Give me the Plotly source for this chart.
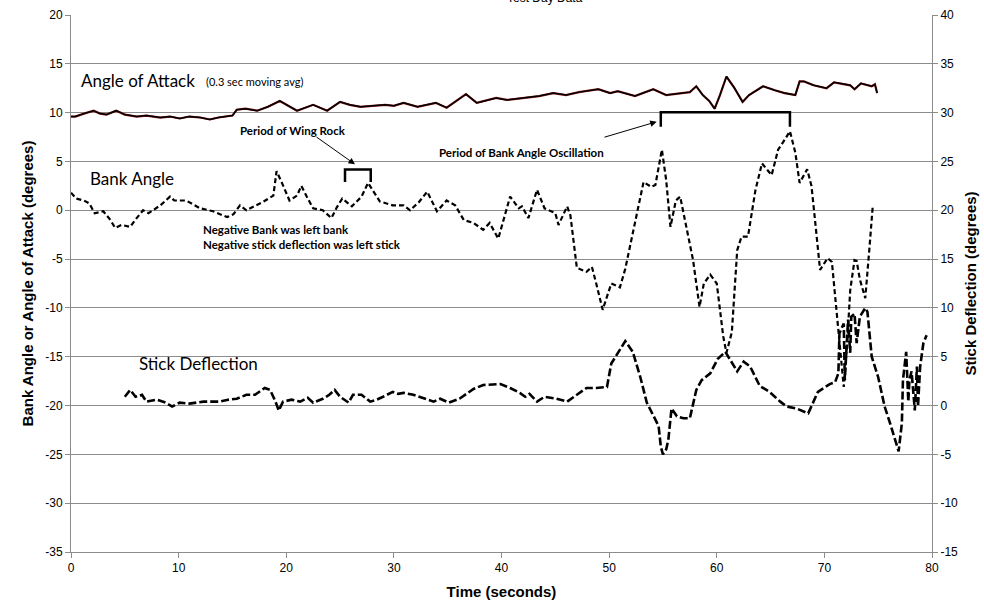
import plotly.graph_objs as go

# time (s) and angle of attack (deg, left axis)
aoa_t = [0.0, 0.4, 1.2, 2.1, 2.7, 3.3, 4.2, 5.0, 6.1, 7.0, 8.3, 9.2, 10.1, 11.0, 12.0, 12.9,
         13.7, 14.5, 15.0, 15.4, 16.2, 17.3, 18.3, 19.4, 20.2, 21.0, 22.5, 23.8, 25.0, 25.9,
         26.9, 28.0, 29.2, 30.0, 30.9, 32.2, 33.9, 34.9, 36.7, 37.7, 39.5, 40.5, 42.2, 43.5,
         44.8, 46.0, 47.2, 49.0, 50.1, 50.8, 52.4, 54.1, 55.3, 56.9, 57.5, 58.1, 58.7, 59.3,
         59.8, 60.3, 60.9, 61.6, 62.4, 63.0, 64.3, 65.4, 66.3, 67.3, 67.7, 68.1, 69.0, 70.2,
         70.9, 72.4, 72.8, 73.4, 74.4, 74.7, 74.9]
aoa = [9.6, 9.6, 9.9, 10.2, 9.9, 9.8, 10.2, 9.8, 9.6, 9.7, 9.5, 9.6, 9.4, 9.6, 9.5, 9.3,
       9.5, 9.6, 9.7, 10.3, 10.4, 10.2, 10.6, 11.2, 10.7, 10.2, 10.8, 10.2, 11.1, 10.8,
       10.6, 10.7, 10.8, 10.7, 11.0, 10.6, 11.0, 10.5, 11.9, 11.0, 11.5, 11.3, 11.5, 11.7,
       12.0, 11.8, 12.1, 12.4, 12.0, 12.2, 11.7, 12.4, 11.8, 12.0, 12.1, 12.7, 11.8, 11.2,
       10.4, 11.8, 13.7, 12.6, 11.1, 11.8, 12.7, 12.3, 12.0, 11.8, 13.2, 13.2, 12.8, 12.5,
       13.1, 12.8, 12.4, 13.0, 12.7, 12.9, 12.0]

# bank angle (deg, left axis)
bank_t = [0.0, 0.5, 1.2, 1.7, 2.2, 3.0, 3.6, 4.1, 4.7, 5.5, 6.1, 6.7, 7.2, 8.3, 9.2, 9.6,
          10.7, 11.3, 12.0, 13.2, 14.5, 15.1, 15.7, 16.3, 17.2, 17.9, 18.8, 19.1, 19.6, 20.3,
          21.0, 21.4, 22.0, 22.5, 23.4, 24.2, 24.7, 25.2, 26.1, 27.0, 27.6, 28.2, 28.7, 29.9,
          30.9, 31.5, 32.3, 33.1, 34.0, 34.9, 35.7, 36.5, 37.4, 38.3, 38.9, 39.7, 40.3, 40.8,
          41.6, 41.9, 42.5, 43.3, 44.0, 45.0, 45.3, 46.1, 46.4, 47.0, 47.9, 48.4, 48.8, 49.4,
          50.2, 51.0, 51.5, 52.2, 53.2, 53.9, 54.3, 54.9, 55.3, 55.7, 56.2, 56.6, 57.2, 57.8,
          58.4, 58.8, 59.4, 60.0, 60.6, 60.9, 61.4, 61.9, 62.3, 62.9, 63.6, 64.2, 65.1, 65.7,
          66.3, 66.8, 67.3, 67.7, 68.4, 68.8, 69.0, 69.6, 70.3, 70.7, 71.3, 71.8, 72.1, 72.4,
          72.8, 73.0, 73.3, 73.8, 74.2, 74.5]
bank = [1.8, 1.2, 1.0, 0.7, -0.3, -0.1, -0.9, -1.8, -1.5, -1.7, -0.8, 0.0, -0.3, 0.5, 1.4, 1.0,
        1.0, 0.6, 0.2, -0.1, -0.7, -0.4, 0.5, 0.0, 0.5, 0.9, 1.5, 4.0, 2.8, 1.0,
        1.5, 2.5, 1.2, 0.2, 0.0, -0.8, 0.3, 1.2, 0.4, 1.4, 2.8, 1.8, 0.9, 0.5,
        0.5, 0.0, 0.8, 1.9, -0.1, 1.0, 0.5, -1.0, -1.3, -2.0, -1.3, -2.9, -0.5, 1.4,
        0.2, 0.4, -0.8, 2.1, 0.2, -0.3, -1.5, 0.4, -0.5, -5.9, -6.3, -5.8, -7.5, -10.2,
        -7.5, -7.9, -6.0, -2.3, 2.9, 2.4, 2.6, 6.2, 3.1, -1.7, 1.0, 1.4, -1.7, -5.1,
        -9.9, -7.5, -6.6, -7.5, -12.9, -14.6, -12.5, -4.1, -2.7, -2.7, 2.1, 4.8, 3.6, 6.2,
        7.2, 8.1, 5.9, 2.8, 4.2, 2.5, 0.4, -6.1, -4.9, -5.3, -12.3, -18.1, -14.0, -8.2,
        -5.1, -5.2, -7.1, -9.0, -3.7, 0.5]

# stick deflection (deg, right axis)
stick_t = [5.0, 5.5, 6.0, 6.6, 7.0, 8.0, 8.8, 9.4, 10.1, 11.0, 12.3, 13.8, 14.6, 15.4, 16.3,
           17.1, 18.0, 18.5, 19.0, 19.3, 19.7, 20.5, 21.3, 22.0, 22.5, 23.4, 24.0, 24.5, 25.0,
           25.8, 26.2, 27.0, 27.8, 28.4, 29.0, 29.9, 30.4, 30.9, 31.8, 32.7, 33.7, 34.3, 35.1,
           36.1, 37.4, 38.3, 39.9, 40.8, 41.7, 42.2, 42.6, 43.3, 44.0, 45.1, 46.1, 47.0, 47.9,
           48.8, 49.8, 50.2, 50.8, 51.5, 52.2, 52.9, 53.5, 54.1, 54.6, 54.8, 55.0, 55.3, 55.5,
           55.8, 56.3, 56.9, 57.5, 58.1, 58.6, 59.4, 60.1, 60.8, 61.2, 61.9, 62.5, 63.1, 64.0,
           64.9, 65.9, 66.5, 67.4, 68.5, 69.4, 70.5, 71.0, 71.3, 71.4, 71.8, 71.9, 72.1, 72.2,
           72.4, 72.5, 72.8, 73.0, 73.3, 73.8, 74.0, 74.4, 75.0, 75.6, 76.1, 76.9, 77.2, 77.3,
           77.6, 77.8, 77.9, 78.1, 78.3, 78.4, 78.6, 78.7, 78.9, 79.2, 79.5]
stick = [0.9, 1.6, 0.9, 1.1, 0.4, 0.6, 0.3, -0.1, 0.3, 0.2, 0.4, 0.4, 0.6, 0.7, 1.1,
         1.1, 1.8, 1.6, 0.4, -0.5, 0.4, 0.6, 0.4, 0.8, 0.3, 0.7, 1.1, 1.6, 0.9,
         0.3, 1.1, 1.1, 0.4, 0.6, 0.9, 1.4, 1.2, 1.3, 1.1, 0.8, 0.4, 0.7, 0.3,
         0.7, 1.7, 2.1, 2.2, 1.8, 1.3, 0.9, 1.2, 0.4, 0.9, 0.7, 0.4, 1.1, 1.8,
         1.8, 1.9, 4.3, 5.3, 6.6, 5.5, 2.9, 0.3, -1.1, -2.1, -4.2, -5.0, -4.5, -3.5,
         -0.3, -1.1, -1.3, -1.3, 1.6, 2.6, 3.3, 4.8, 5.5, 4.8, 3.5, 4.5, 4.0, 2.0,
         1.4, 0.4, -0.1, -0.3, -0.8, 1.4, 2.2, 2.4, 3.3, 7.4, 8.4, 2.6, 6.4, 8.8,
         5.4, 9.1, 9.4, 6.4, 9.1, 10.0, 9.6, 5.0, 2.9, -0.1, -1.8, -4.7, -1.8, 2.6,
         5.5, 0.4, 2.6, 3.5, 0.9, -0.5, 4.0, -0.1, 4.0, 6.4, 7.2]

left_ticks = list(range(-35, 25, 5))
right_ticks = list(range(-15, 45, 5))
x_ticks = list(range(0, 90, 10))

fig = go.Figure()
fig.add_trace(go.Scatter(x=aoa_t, y=aoa, mode="lines",
                         line=dict(color="#8b1a1a", width=2.2), hoverinfo="skip"))
fig.add_trace(go.Scatter(x=aoa_t, y=aoa, mode="lines",
                         line=dict(color="black", width=1.5)))
fig.add_trace(go.Scatter(x=bank_t, y=bank, mode="lines",
                         line=dict(color="black", width=2.2, dash="5px,3px")))
fig.add_trace(go.Scatter(x=stick_t, y=stick, mode="lines", yaxis="y2",
                         line=dict(color="black", width=2.6, dash="8px,3px")))

# brackets
fig.add_shape(type="path", xref="x", yref="y", path="M 54.8,8.56 L 54.8,10.03 L 66.8,10.03 L 66.8,8.56",
              line=dict(color="black", width=2.5))
fig.add_shape(type="path", xref="x", yref="y", path="M 25.46,2.9 L 25.46,4.17 L 27.85,4.17 L 27.85,2.9",
              line=dict(color="black", width=2.5))

lab = dict(family="Lato, Open Sans, sans-serif", color="black")
bold = dict(family="Lato, Open Sans, sans-serif", color="black", size=11.5)
ann = [
    dict(x=0.7, y=13.34, text="Angle of Attack", font=dict(lab, size=17)),
    dict(x=12.4, y=13.15, text="(0.3 sec moving avg)", font=dict(lab, size=11)),
    dict(x=1.6, y=3.3, text="Bank Angle", font=dict(lab, size=17)),
    dict(x=6.1, y=-15.7, text="Stick Deflection", font=dict(lab, size=17)),
    dict(x=15.5, y=8.22, text="<b>Period of Wing Rock</b>", font=bold),
    dict(x=34.05, y=5.87, text="<b>Period of Bank Angle Oscillation</b>", font=bold),
    dict(x=12.05, y=-2.78, text="<b>Negative Bank was left bank<br>Negative stick deflection was left stick</b>",
         font=bold, align="left"),
]
for a in ann:
    fig.add_annotation(xref="x", yref="y", xanchor="left", yanchor="middle", showarrow=False, **a)

for tail, head in [((22.67, 7.61), (26.39, 4.71)), ((49.43, 7.44), (54.42, 9.07))]:
    fig.add_annotation(xref="x", yref="y", axref="x", ayref="y", x=head[0], y=head[1],
                       ax=tail[0], ay=tail[1], text="", showarrow=True, arrowhead=2,
                       arrowsize=1.3, arrowwidth=1, arrowcolor="black")

fig.add_annotation(xref="paper", yref="paper", x=0.5505, y=1.028, yshift=11, text="Test Day Data",
                   showarrow=False, font=dict(family="Arial, Liberation Sans", size=12, color="black"))

tickfont = dict(family="Arial, Liberation Sans", size=12, color="black")
titlefont = dict(family="Arial, Liberation Sans", size=15, color="black")
axis_common = dict(showline=True, linecolor="#8c8c8c", linewidth=1, ticks="outside",
                   ticklen=5, tickcolor="#8c8c8c", tickfont=tickfont, zeroline=False,
                   automargin=False)

fig.update_layout(
    width=984, height=606,
    margin=dict(l=71, r=52, t=15, b=54),
    plot_bgcolor="white", paper_bgcolor="white",
    showlegend=False,
    xaxis=dict(range=[0, 80], tickvals=x_ticks, ticktext=[str(v) for v in x_ticks], showgrid=False,
               title=dict(text="<b>Time (seconds)</b>", font=titlefont, standoff=12), **axis_common),
    yaxis=dict(range=[-35, 20], tickvals=left_ticks, ticktext=[str(v) for v in left_ticks],
               showgrid=True, gridcolor="#8c8c8c", gridwidth=1,
               title=dict(text="<b>Bank Angle or Angle of Attack (degrees)</b>",
                          font=titlefont, standoff=8), **axis_common),
    yaxis2=dict(range=[-15, 40], tickvals=right_ticks, ticktext=[str(v) for v in right_ticks],
                overlaying="y", side="right", showgrid=False,
                title=dict(text="<b>Stick Deflection (degrees)</b>", font=titlefont, standoff=8),
                **axis_common),
)

fig.write_html("out.html", config={"displayModeBar": False},
               post_script="document.body.style.margin='0';")
